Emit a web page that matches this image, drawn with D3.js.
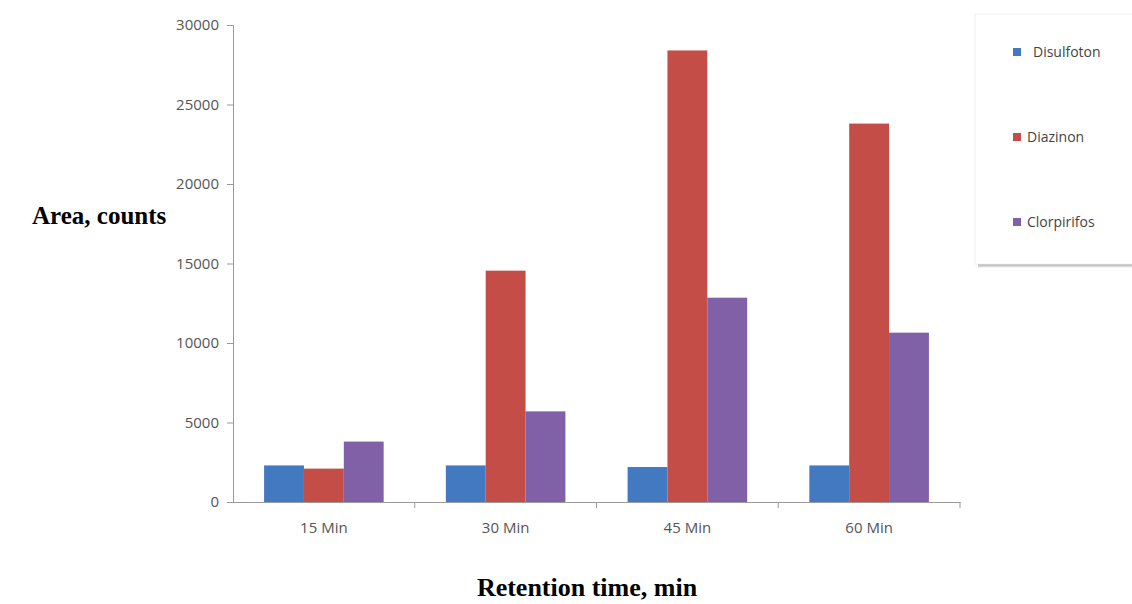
<!DOCTYPE html>
<html>
<head>
<meta charset="utf-8">
<script src="https://cdn.jsdelivr.net/npm/d3@7"></script>
<style>
  body { margin: 0; background: #fff; }
  .tick text { font-family: "Open Sans", "Noto Sans", sans-serif; font-size: 15px; fill: #555; }
  .title { font-family: "Liberation Serif", "Times New Roman", serif; font-weight: bold; fill: #000; }
  .legend-text { font-family: "Open Sans", "Noto Sans", sans-serif; font-size: 14px; fill: #444; }
</style>
</head>
<body>
<div class="chart"></div>
<script>
//chart data
var categories = ["15 Min", "30 Min", "45 Min", "60 Min"];
var seriesNames = ["Disulfoton", "Diazinon", "Clorpirifos"];
var disulfoton = [2300, 2300, 2200, 2300];
var diazinon = [2100, 14550, 28400, 23800];
var clorpirifos = [3800, 5700, 12850, 10650];
var yTicks = [0, 5000, 10000, 15000, 20000, 25000, 30000];
var colors = ["#4379C0", "#C44D48", "#8061A8"];

var width = 1132,
    height = 604,
    plotLeft = 233,
    plotRight = 960,
    plotTop = 25,
    plotBottom = 502;

var seriesValues = [disulfoton, diazinon, clorpirifos];

//set svg container
var svg = d3.select(".chart").append("svg")
            .attr("width", width)
            .attr("height", height);

//scales
var xScale = d3.scaleBand()
               .domain(categories)
               .range([plotLeft, plotRight]);

var xInner = d3.scaleBand()
               .domain(seriesNames)
               .range([0, xScale.bandwidth()])
               .paddingOuter(0.78)
               .paddingInner(0);

var yScale = d3.scaleLinear()
               .domain([0, 30000])
               .range([plotBottom, plotTop]);

//y axis
var yAxis = svg.append("g")
               .attr("transform", "translate(" + plotLeft + ",0)")
               .call(d3.axisLeft(yScale).tickValues(yTicks).tickFormat(d3.format("d")).tickSize(6).tickPadding(8));
yAxis.select(".domain").attr("stroke", "#9a9a9a");
yAxis.selectAll(".tick line").attr("stroke", "#9a9a9a");

//x axis, ticks at band edges
var xAxis = svg.append("g")
               .attr("transform", "translate(0," + plotBottom + ")")
               .call(d3.axisBottom(xScale).tickSize(0).tickPadding(20));
xAxis.select(".domain").attr("stroke", "#9a9a9a");

svg.append("g").selectAll("line")
   .data(categories)
   .enter()
   .append("line")
   .attr("x1", function(d) { return xScale(d) + xScale.bandwidth(); })
   .attr("x2", function(d) { return xScale(d) + xScale.bandwidth(); })
   .attr("y1", plotBottom)
   .attr("y2", plotBottom + 6)
   .attr("stroke", "#9a9a9a");

//bars
var groups = svg.append("g").selectAll("g")
                .data(categories)
                .enter()
                .append("g")
                .attr("transform", function(d) { return "translate(" + xScale(d) + ",0)"; });

groups.selectAll("rect")
      .data(function(d, i) {
        return seriesNames.map(function(name, s) {
          return { name: name, value: seriesValues[s][i], s: s };
        });
      })
      .enter()
      .append("rect")
      .attr("x", function(d) { return xInner(d.name); })
      .attr("y", function(d) { return yScale(d.value); })
      .attr("width", xInner.bandwidth())
      .attr("height", function(d) { return plotBottom - yScale(d.value); })
      .style("fill", function(d) { return colors[d.s]; });

//axis titles
svg.append("text")
   .attr("class", "title")
   .attr("x", 32)
   .attr("y", 224)
   .style("font-size", "25px")
   .text("Area, counts");

svg.append("text")
   .attr("class", "title")
   .attr("x", 587)
   .attr("y", 596)
   .attr("text-anchor", "middle")
   .style("font-size", "26px")
   .text("Retention time, min");

//legend panel with shadow
var defs = svg.append("defs");
var grad = defs.append("linearGradient")
               .attr("id", "shadow")
               .attr("x1", 0).attr("y1", 0).attr("x2", 0).attr("y2", 1);
grad.append("stop").attr("offset", "0%").attr("stop-color", "#888");
grad.append("stop").attr("offset", "100%").attr("stop-color", "#fff");

svg.append("rect")
   .attr("x", 978)
   .attr("y", 263)
   .attr("width", 160)
   .attr("height", 5)
   .style("fill", "url(#shadow)");

svg.append("rect")
   .attr("x", 975)
   .attr("y", 14)
   .attr("width", 160)
   .attr("height", 250)
   .style("fill", "#fff")
   .style("stroke", "#f0f0f0");

var legendY = [52, 137, 222];
var legendTextX = [1033, 1027, 1027];
var legend = svg.append("g").selectAll("g")
                .data(seriesNames)
                .enter()
                .append("g");

legend.append("rect")
      .attr("x", 1013)
      .attr("y", function(d, i) { return legendY[i] - 4; })
      .attr("width", 8)
      .attr("height", 8)
      .style("fill", function(d, i) { return colors[i]; });

legend.append("text")
      .attr("class", "legend-text")
      .attr("x", function(d, i) { return legendTextX[i]; })
      .attr("y", function(d, i) { return legendY[i]; })
      .attr("dy", "0.35em")
      .text(function(d) { return d; });
</script>
</body>
</html>
